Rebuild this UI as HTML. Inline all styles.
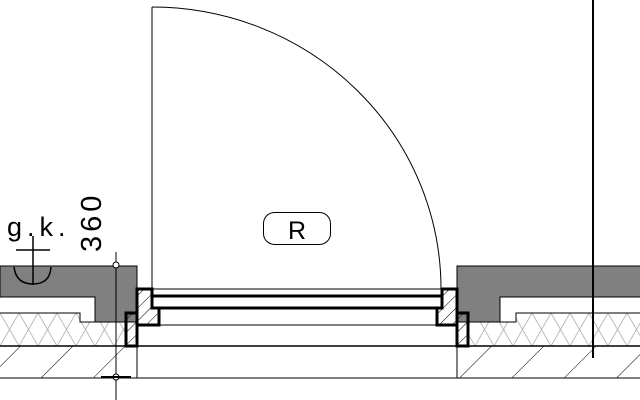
<!DOCTYPE html>
<html><head><style>html,body{margin:0;padding:0;background:#fff}svg{display:block}</style></head>
<body>
<svg width="640" height="400" viewBox="0 0 640 400" xmlns="http://www.w3.org/2000/svg">
<defs>
<pattern id="con" width="37" height="37" patternUnits="userSpaceOnUse" patternTransform="rotate(45)">
<line x1="0" y1="0" x2="0" y2="37" stroke="#000" stroke-width="1"/>
</pattern>
<pattern id="ins" x="0" y="313" width="19" height="33" patternUnits="userSpaceOnUse">
<path d="M0,0 L19,33 M19,0 L0,33" stroke="#bbb" stroke-width="1" fill="none"/>
</pattern>
<pattern id="fr" width="9" height="9" patternUnits="userSpaceOnUse" patternTransform="rotate(45)">
<line x1="0" y1="0" x2="0" y2="9" stroke="#000" stroke-width="1"/>
</pattern>
</defs>
<path d="M0,313 H80 V322 H126 V346 H0 Z" fill="url(#ins)"/>
<path d="M468,322 H516 V313 H640 V346 H468 Z" fill="url(#ins)"/>
<rect x="0" y="346" width="137" height="32" fill="url(#con)"/>
<rect x="457" y="346" width="183" height="32" fill="url(#con)"/>
<path d="M0,266 H137 V322 H95 V297 H0 Z" fill="#808080" stroke="#000" stroke-width="1"/>
<path d="M0,313 H80 V322 H95" fill="none" stroke="#000" stroke-width="1"/>
<path d="M640,266 H457 V322 H500 V297 H640" fill="#808080" stroke="#000" stroke-width="1"/>
<path d="M640,313 H516 V322 H500" fill="none" stroke="#000" stroke-width="1"/>
<line x1="0" y1="346" x2="640" y2="346" stroke="#000" stroke-width="1.5"/>
<line x1="0" y1="378" x2="640" y2="378" stroke="#000" stroke-width="1"/>
<line x1="137" y1="325" x2="137" y2="378" stroke="#000" stroke-width="1"/>
<line x1="457" y1="325" x2="457" y2="378" stroke="#000" stroke-width="1"/>
<path d="M137,289 H152 V308 H159 V325 H137 Z" fill="url(#fr)" stroke="#000" stroke-width="3"/>
<rect x="126" y="313" width="11" height="33" fill="url(#fr)" stroke="#000" stroke-width="3"/>
<path d="M457,289 H442 V308 H437 V325 H457 Z" fill="url(#fr)" stroke="#000" stroke-width="3"/>
<rect x="457" y="313" width="11" height="33" fill="url(#fr)" stroke="#000" stroke-width="3"/>
<line x1="152" y1="289" x2="442" y2="289" stroke="#000" stroke-width="1"/>
<line x1="152" y1="296" x2="442" y2="296" stroke="#000" stroke-width="3"/>
<line x1="152" y1="308" x2="442" y2="308" stroke="#000" stroke-width="3"/>
<line x1="152" y1="289" x2="152" y2="308" stroke="#000" stroke-width="3"/>
<line x1="159" y1="325" x2="437" y2="325" stroke="#000" stroke-width="1"/>
<line x1="152" y1="7" x2="152" y2="289" stroke="#000" stroke-width="1"/>
<path d="M152,7 A289,282 0 0 1 441,289" fill="none" stroke="#000" stroke-width="1"/>
<line x1="593" y1="0" x2="593" y2="358" stroke="#000" stroke-width="2"/>
<rect x="263.5" y="212.5" width="67" height="32" rx="11" fill="#fff" stroke="#000" stroke-width="1"/>
<text x="297" y="239" font-family="Liberation Sans, sans-serif" font-size="25" text-anchor="middle">R</text>
<line x1="116" y1="252" x2="116" y2="400" stroke="#000" stroke-width="1"/>
<circle cx="116" cy="265" r="3" fill="#fff" stroke="#000" stroke-width="1"/>
<circle cx="116" cy="377" r="3" fill="#fff" stroke="#000" stroke-width="1"/>
<line x1="101" y1="377" x2="131" y2="377" stroke="#000" stroke-width="2"/>
<text transform="translate(101,252) rotate(-90)" font-family="Liberation Sans, sans-serif" font-size="29" letter-spacing="4">360</text>
<text x="7" y="236" font-family="Liberation Sans, sans-serif" font-size="27" letter-spacing="5">g.k.</text>
<line x1="33" y1="236" x2="33" y2="285" stroke="#000" stroke-width="1.5"/>
<line x1="16" y1="250" x2="50" y2="250" stroke="#000" stroke-width="1.5"/>
<path d="M14,267 Q16,284 33,284 Q50,284 51,267" fill="none" stroke="#000" stroke-width="1.5"/>
</svg>
</body></html>
